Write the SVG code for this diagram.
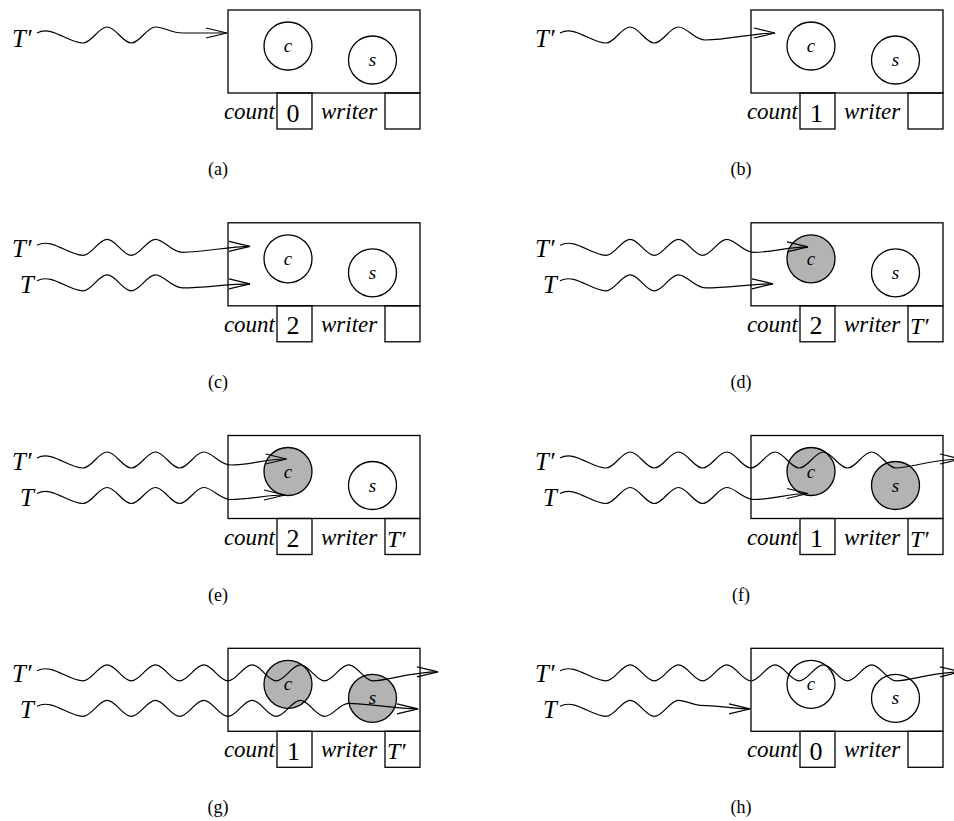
<svg xmlns="http://www.w3.org/2000/svg" width="954" height="821" viewBox="0 0 954 821">
<style>
.box{fill:none;stroke:#000;stroke-width:1.3}
.circ{fill:#fff;stroke:#000;stroke-width:1.3}
.held{fill:#b3b3b3}
.wave{fill:none;stroke:#000;stroke-width:1.2;marker-end:url(#arr)}
.it{font-family:"Liberation Serif","Times New Roman",serif;font-style:italic;font-size:23px}
.lab{font-family:"Liberation Serif","Times New Roman",serif;font-style:italic;font-size:25px}
.wl{font-family:"Liberation Serif","Times New Roman",serif;font-style:italic;font-size:24px}
.num{font-family:"Liberation Serif","Times New Roman",serif;font-size:26px;text-anchor:middle}
.cs{font-family:"Liberation Serif","Times New Roman",serif;font-style:italic;font-size:19px;text-anchor:middle}
.cap{font-family:"Liberation Serif","Times New Roman",serif;font-size:18px;text-anchor:middle}
.end{text-anchor:end}
</style>
<defs>
<marker id="arr" viewBox="-23 -7 25 14" refX="0" refY="0" markerWidth="25" markerHeight="14" markerUnits="userSpaceOnUse" orient="auto">
<path d="M-21,-5 L0,0 L-21,5" fill="none" stroke="#000" stroke-width="1.2"/>
</marker>
</defs>

<!-- (a) -->
<g id="panel-a">
<g id="a-box"><rect class="box" x="228" y="10" width="192" height="83"/></g>
<g id="a-c"><circle class="circ" cx="288" cy="46" r="24"/><text class="cs" x="288" y="52">c</text></g>
<g id="a-s"><circle class="circ" cx="372.5" cy="60" r="24"/><text class="cs" x="372.5" y="66">s</text></g>
<g id="a-count"><text class="it end" x="275" y="119">count</text><rect class="box" x="277" y="93" width="35" height="36"/><text class="num" x="293" y="121.5">0</text></g>
<g id="a-writer"><text class="it" x="321" y="119">writer</text><rect class="box" x="385" y="93" width="35" height="36"/></g>
<g id="a-threads"><text class="lab" x="12" y="46.5">T′</text></g>
<g id="a-connectors"><path class="wave" d="M37,33 C52,25 68,43 83,43 c8.7,0 15.45,-16 24.15,-16 s15.45,16 24.15,16 s15.45,-16 24.15,-16 c8.7,0 16,6 27,6 L227,33"/></g>
<text class="cap" x="218" y="175">(a)</text>
</g>

<!-- (b) -->
<g id="panel-b" transform="translate(523,0)">
<g id="b-box"><rect class="box" x="228" y="10" width="192" height="83"/></g>
<g id="b-c"><circle class="circ" cx="288" cy="46" r="24"/><text class="cs" x="288" y="52">c</text></g>
<g id="b-s"><circle class="circ" cx="372.5" cy="60" r="24"/><text class="cs" x="372.5" y="66">s</text></g>
<g id="b-count"><text class="it end" x="275" y="119">count</text><rect class="box" x="277" y="93" width="35" height="36"/><text class="num" x="293.5" y="121.5">1</text></g>
<g id="b-writer"><text class="it" x="321" y="119">writer</text><rect class="box" x="385" y="93" width="35" height="36"/></g>
<g id="b-threads"><text class="lab" x="12" y="46.5">T′</text></g>
<g id="b-connectors"><path class="wave" d="M37,33 C52,25 68,43 83,43 c8.7,0 15.45,-16 24.15,-16 s15.45,16 24.15,16 s15.45,-16 24.15,-16 c8.7,0 16,13 27,13 C205,40 230,33 252,33"/></g>
<text class="cap" x="218" y="175">(b)</text>
</g>

<!-- (c) -->
<g id="panel-c" transform="translate(0,212.8)">
<g id="c-box"><rect class="box" x="228" y="10" width="192" height="83"/></g>
<g id="c-c"><circle class="circ" cx="288" cy="46" r="24"/><text class="cs" x="288" y="52">c</text></g>
<g id="c-s"><circle class="circ" cx="372.5" cy="60" r="24"/><text class="cs" x="372.5" y="66">s</text></g>
<g id="c-count"><text class="it end" x="275" y="119">count</text><rect class="box" x="277" y="93" width="35" height="36"/><text class="num" x="293" y="121.5">2</text></g>
<g id="c-writer"><text class="it" x="321" y="119">writer</text><rect class="box" x="385" y="93" width="35" height="36"/></g>
<g id="c-threads"><text class="lab" x="12" y="44">T′</text><text class="lab" x="20" y="80">T</text></g>
<g id="c-connectors">
<path class="wave" d="M37,32.5 C52,24.5 68,42.5 83,42.5 c8.7,0 15.45,-16 24.15,-16 s15.45,16 24.15,16 s15.45,-16 24.15,-16 c8.7,0 16,13 27,13 C205,39.5 228,33.5 250,33.5"/>
<path class="wave" d="M37,68 C52,60 68,78 83,78 c8.7,0 15.45,-16 24.15,-16 s15.45,16 24.15,16 s15.45,-16 24.15,-16 c8.7,0 16,13 27,13 C205,75 228,71 250,71"/>
</g>
<text class="cap" x="218" y="175">(c)</text>
</g>

<!-- (d) -->
<g id="panel-d" transform="translate(523,212.8)">
<g id="d-box"><rect class="box" x="228" y="10" width="192" height="83"/></g>
<g id="d-c"><circle class="circ held" cx="288" cy="46" r="24"/><text class="cs" x="288" y="52">c</text></g>
<g id="d-s"><circle class="circ" cx="372.5" cy="60" r="24"/><text class="cs" x="372.5" y="66">s</text></g>
<g id="d-count"><text class="it end" x="275" y="119">count</text><rect class="box" x="277" y="93" width="35" height="36"/><text class="num" x="293" y="121.5">2</text></g>
<g id="d-writer"><text class="it" x="321" y="119">writer</text><rect class="box" x="385" y="93" width="35" height="36"/><text class="wl" x="387" y="121">T′</text></g>
<g id="d-threads"><text class="lab" x="12" y="44">T′</text><text class="lab" x="20" y="80">T</text></g>
<g id="d-connectors">
<path class="wave" d="M37,32.5 C52,24.5 68,42.5 83,42.5 c8.7,0 15.45,-16 24.15,-16 s15.45,16 24.15,16 s15.45,-16 24.15,-16 s15.45,16 24.15,16 s15.45,-16 24.15,-16 c8.7,0 16,13 27,13 C250,39.5 265,34 285,34"/>
<path class="wave" d="M37,68 C52,60 68,78 83,78 c8.7,0 15.45,-16 24.15,-16 s15.45,16 24.15,16 s15.45,-16 24.15,-16 c8.7,0 16,13 27,13 C205,75 228,71 250,71"/>
</g>
<text class="cap" x="218" y="175">(d)</text>
</g>

<!-- (e) -->
<g id="panel-e" transform="translate(0,425.5)">
<g id="e-box"><rect class="box" x="228" y="10" width="192" height="83"/></g>
<g id="e-c"><circle class="circ held" cx="288" cy="46" r="24"/><text class="cs" x="288" y="52">c</text></g>
<g id="e-s"><circle class="circ" cx="372.5" cy="60" r="24"/><text class="cs" x="372.5" y="66">s</text></g>
<g id="e-count"><text class="it end" x="275" y="119">count</text><rect class="box" x="277" y="93" width="35" height="36"/><text class="num" x="293" y="121.5">2</text></g>
<g id="e-writer"><text class="it" x="321" y="119">writer</text><rect class="box" x="385" y="93" width="35" height="36"/><text class="wl" x="387" y="121">T′</text></g>
<g id="e-threads"><text class="lab" x="12" y="44">T′</text><text class="lab" x="20" y="80">T</text></g>
<g id="e-connectors">
<path class="wave" d="M37,32.5 C52,24.5 68,42.5 83,42.5 c8.7,0 15.45,-16 24.15,-16 s15.45,16 24.15,16 s15.45,-16 24.15,-16 s15.45,16 24.15,16 s15.45,-16 24.15,-16 c8.7,0 16,13 27,13 C250,39.5 265,33.5 286.5,33.5"/>
<path class="wave" d="M37,68 C52,60 68,78 83,78 c8.7,0 15.45,-16 24.15,-16 s15.45,16 24.15,16 s15.45,-16 24.15,-16 s15.45,16 24.15,16 s15.45,-16 24.15,-16 c8.7,0 16,12 27,12 C250,74 265,69.5 285,69.5"/>
</g>
<text class="cap" x="218" y="175">(e)</text>
</g>

<!-- (f) -->
<g id="panel-f" transform="translate(523,425.5)">
<g id="f-box"><rect class="box" x="228" y="10" width="192" height="83"/></g>
<g id="f-c"><circle class="circ held" cx="288" cy="46" r="24"/><text class="cs" x="288" y="52">c</text></g>
<g id="f-s"><circle class="circ held" cx="372.5" cy="60" r="24"/><text class="cs" x="372.5" y="66">s</text></g>
<g id="f-count"><text class="it end" x="275" y="119">count</text><rect class="box" x="277" y="93" width="35" height="36"/><text class="num" x="293.5" y="121.5">1</text></g>
<g id="f-writer"><text class="it" x="321" y="119">writer</text><rect class="box" x="385" y="93" width="35" height="36"/><text class="wl" x="387" y="121">T′</text></g>
<g id="f-threads"><text class="lab" x="12" y="44">T′</text><text class="lab" x="20" y="80">T</text></g>
<g id="f-connectors">
<path class="wave" d="M37,32.5 C52,24.5 68,42.5 83,42.5 c8.7,0 15.45,-16 24.15,-16 s15.45,16 24.15,16 s15.45,-16 24.15,-16 s15.45,16 24.15,16 s15.45,-16 24.15,-16 s15.45,16 24.15,16 s15.45,-16 24.15,-16 s15.45,16 24.15,16 s15.45,-16 24.15,-16 s15.45,16 24.15,16 s15.45,-16 24.15,-16 s15.45,16 24.15,16 C388,42.5 410,33.5 438,33.5"/>
<path class="wave" d="M37,68 C52,60 68,78 83,78 c8.7,0 15.45,-16 24.15,-16 s15.45,16 24.15,16 s15.45,-16 24.15,-16 s15.45,16 24.15,16 s15.45,-16 24.15,-16 c8.7,0 16,12 27,12 C250,74 265,68 285,68"/>
</g>
<text class="cap" x="218" y="175">(f)</text>
</g>

<!-- (g) -->
<g id="panel-g" transform="translate(0,638.3)">
<g id="g-box"><rect class="box" x="228" y="10" width="192" height="83"/></g>
<g id="g-c"><circle class="circ held" cx="288" cy="46" r="24"/><text class="cs" x="288" y="52">c</text></g>
<g id="g-s"><circle class="circ held" cx="372.5" cy="60" r="24"/><text class="cs" x="372.5" y="66">s</text></g>
<g id="g-count"><text class="it end" x="275" y="119">count</text><rect class="box" x="277" y="93" width="35" height="36"/><text class="num" x="293.5" y="121.5">1</text></g>
<g id="g-writer"><text class="it" x="321" y="119">writer</text><rect class="box" x="385" y="93" width="35" height="36"/><text class="wl" x="387" y="121">T′</text></g>
<g id="g-threads"><text class="lab" x="12" y="44">T′</text><text class="lab" x="20" y="80">T</text></g>
<g id="g-connectors">
<path class="wave" d="M37,32.5 C52,24.5 68,42.5 83,42.5 c8.7,0 15.45,-16 24.15,-16 s15.45,16 24.15,16 s15.45,-16 24.15,-16 s15.45,16 24.15,16 s15.45,-16 24.15,-16 s15.45,16 24.15,16 s15.45,-16 24.15,-16 s15.45,16 24.15,16 s15.45,-16 24.15,-16 s15.45,16 24.15,16 s15.45,-16 24.15,-16 s15.45,16 24.15,16 C388,42.5 410,33.5 438,33.5"/>
<path class="wave" d="M37,68 C52,60 68,78 83,78 c8.7,0 15.45,-16 24.15,-16 s15.45,16 24.15,16 s15.45,-16 24.15,-16 s15.45,16 24.15,16 s15.45,-16 24.15,-16 s15.45,16 24.15,16 s15.45,-16 24.15,-16 s15.45,16 24.15,16 s15.45,-16 24.15,-16 s15.45,16 24.15,16 c8.7,0 15,-13 24,-13 C368,65 395,70.5 418,70.5"/>
</g>
<text class="cap" x="218" y="175">(g)</text>
</g>

<!-- (h) -->
<g id="panel-h" transform="translate(523,638.3)">
<g id="h-box"><rect class="box" x="228" y="10" width="192" height="83"/></g>
<g id="h-c"><circle class="circ" cx="288" cy="46" r="24"/><text class="cs" x="288" y="52">c</text></g>
<g id="h-s"><circle class="circ" cx="372.5" cy="60" r="24"/><text class="cs" x="372.5" y="66">s</text></g>
<g id="h-count"><text class="it end" x="275" y="119">count</text><rect class="box" x="277" y="93" width="35" height="36"/><text class="num" x="293" y="121.5">0</text></g>
<g id="h-writer"><text class="it" x="321" y="119">writer</text><rect class="box" x="385" y="93" width="35" height="36"/></g>
<g id="h-threads"><text class="lab" x="12" y="44">T′</text><text class="lab" x="20" y="80">T</text></g>
<g id="h-connectors">
<path class="wave" d="M37,32.5 C52,24.5 68,42.5 83,42.5 c8.7,0 15.45,-16 24.15,-16 s15.45,16 24.15,16 s15.45,-16 24.15,-16 s15.45,16 24.15,16 s15.45,-16 24.15,-16 s15.45,16 24.15,16 s15.45,-16 24.15,-16 s15.45,16 24.15,16 s15.45,-16 24.15,-16 s15.45,16 24.15,16 s15.45,-16 24.15,-16 s15.45,16 24.15,16 C388,42.5 410,33.5 438,33.5"/>
<path class="wave" d="M37,68 C52,60 68,78 83,78 c8.7,0 15.45,-16 24.15,-16 s15.45,16 24.15,16 s15.45,-16 24.15,-16 c8.7,0 14,5 22,5 C195,67 210,70.5 227,70.5"/>
</g>
<text class="cap" x="218" y="175">(h)</text>
</g>
</svg>
